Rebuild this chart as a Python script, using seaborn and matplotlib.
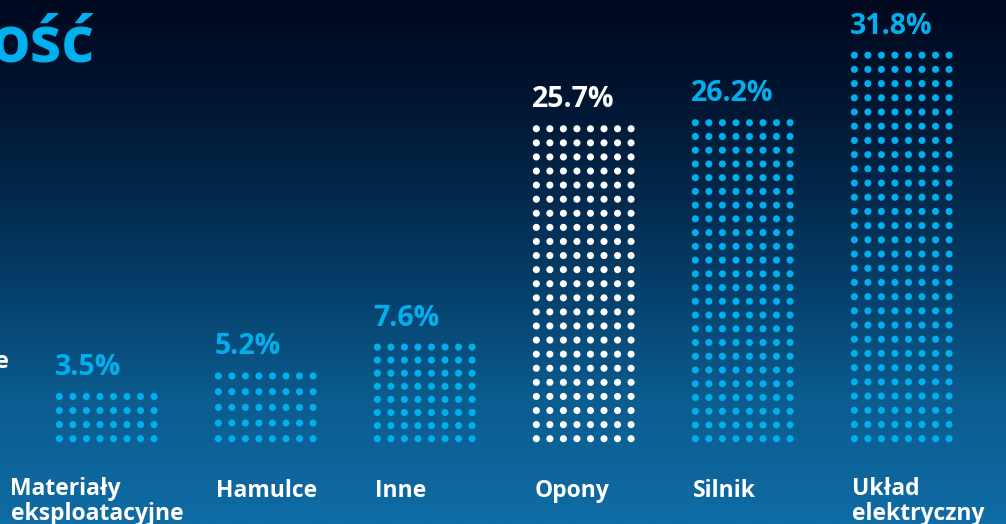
import numpy as np
import pandas as pd
import matplotlib
matplotlib.use("Agg")
import matplotlib.pyplot as plt
import seaborn as sns

# ---------------- data ----------------
categories = ["Materiały\neksploatacyjne", "Hamulce", "Inne", "Opony", "Silnik", "Układ\nelektryczny"]
values = [3.5, 5.2, 7.6, 25.7, 26.2, 31.8]
value_labels = ["3.5%", "5.2%", "7.6%", "25.7%", "26.2%", "31.8%"]
highlight = [False, False, False, True, False, False]
title_fragment = "ość"
side_fragment = "e"

# ---------------- style ----------------
CYAN = "#00b0ee"
WHITE = "#ffffff"
sns.set_theme(style="white")
plt.rcParams["font.family"] = ["Open Sans", "DejaVu Sans"]

W, H, DPI = 1006, 524, 100
fig = plt.figure(figsize=(W / DPI, H / DPI), dpi=DPI)
ax = fig.add_axes([0, 0, 1, 1])

# pixel geometry
px_per_cat = 159.0
first_center_px = 106.7
px_per_pct = 12.06
base_from_bottom = H - 438.7
xlim = (-first_center_px / px_per_cat, (W - first_center_px) / px_per_cat)
ylim = (-base_from_bottom / px_per_pct, (H - base_from_bottom) / px_per_pct)

# background gradient
stops_y = np.array([0, 100, 200, 300, 400, 524]) / H
stops_c = np.array([
    [0, 9, 30], [1, 22, 50], [3, 42, 78], [6, 66, 110], [11, 92, 143], [16, 108, 165]
]) / 255.0
t = np.linspace(0, 1, H)
grad = np.stack([np.interp(t, stops_y, stops_c[:, k]) for k in range(3)], axis=-1)[:, None, :]
ax.imshow(grad, extent=(xlim[0], xlim[1], ylim[0], ylim[1]), aspect="auto",
          origin="upper", zorder=0, interpolation="bilinear")

# dot grid for each bar
n_cols = 8
col_step = 13.53 / px_per_cat
half_w = col_step * (n_cols - 1) / 2
row_target_px = 14.0
recs = []
for i, (cat, v) in enumerate(zip(categories, values)):
    n_int = max(1, int(round(v * px_per_pct / row_target_px)))
    rows = np.linspace(v, 0, n_int + 1)
    cols = i - half_w + col_step * np.arange(n_cols)
    for yy in rows:
        for xx in cols:
            recs.append({"x": xx, "y": yy, "cat": cat})
df = pd.DataFrame(recs)
palette = {c: (WHITE if h else CYAN) for c, h in zip(categories, highlight)}
sns.scatterplot(data=df, x="x", y="y", hue="cat", palette=palette, s=26,
                linewidth=0, legend=False, ax=ax, zorder=3)

# value labels
for i, (v, lab, h) in enumerate(zip(values, value_labels, highlight)):
    ax.annotate(lab, xy=(i - half_w - 0.025, v), xytext=(0, 15.5), textcoords="offset points",
                ha="left", va="baseline", fontsize=20.5, fontweight="bold",
                color=WHITE if h else CYAN, zorder=4)

# category labels (first line baseline at y=497px, 23px between lines)
line_px = 23.0
for i, cat in enumerate(categories):
    if i == 0:
        lx = (10.5 - first_center_px) / px_per_cat
    else:
        lx = i - half_w - 0.013
    n_lines = cat.count("\n") + 1
    base_px = 497 + line_px * (n_lines - 1)
    ly = (H - base_px - base_from_bottom) / px_per_pct
    ax.text(lx, ly, cat, ha="left", va="baseline", fontsize=16.5,
            fontweight="bold", color=WHITE, linespacing=1.03, zorder=4)

# cut-off fragments of surrounding text
fig.text(-10 / W, 1 - 62 / H, title_fragment, ha="left", va="baseline", fontsize=46,
         fontweight="bold", color=CYAN)
fig.text(9 / W, 1 - 368 / H, side_fragment, ha="right", va="baseline", fontsize=17,
         fontweight="bold", color=WHITE)

ax.set_xlim(*xlim)
ax.set_ylim(*ylim)
ax.set_axis_off()
fig.savefig("out.png", dpi=DPI)
